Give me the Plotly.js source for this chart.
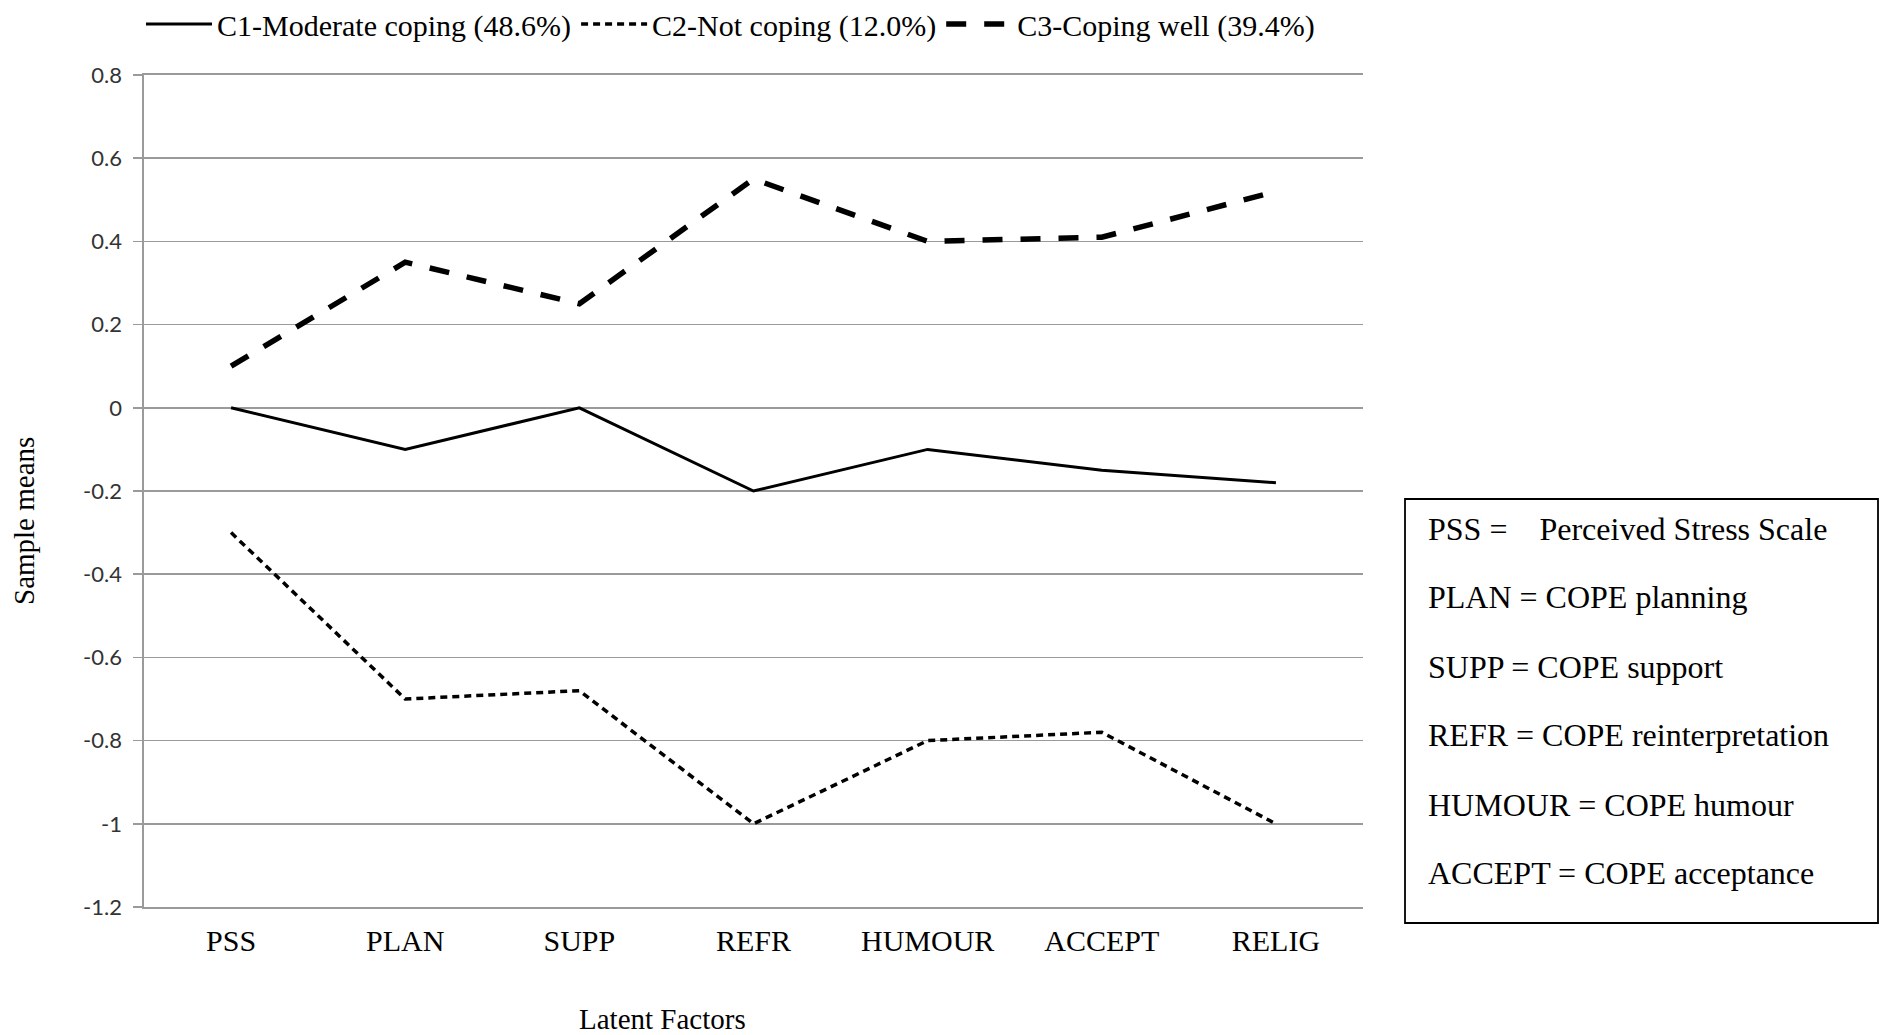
<!DOCTYPE html>
<html>
<head>
<meta charset="utf-8">
<script src="https://cdn.plot.ly/plotly-3.0.1.min.js"></script>
<style>html,body{margin:0;padding:0;background:#fff;}#chart{width:1880px;height:1035px;}</style>
</head>
<body>
<div id="chart"></div>
<script>
const categories = ["PSS", "PLAN", "SUPP", "REFR", "HUMOUR", "ACCEPT", "RELIG"];
const c1Name = "C1-Moderate coping (48.6%)";
const c2Name = "C2-Not coping (12.0%)";
const c3Name = "C3-Coping well (39.4%)";
const c1Values = [0.0, -0.10, 0.0, -0.20, -0.10, -0.15, -0.18];
const c2Values = [-0.30, -0.70, -0.68, -1.00, -0.80, -0.78, -1.00];
const c3Values = [0.10, 0.35, 0.25, 0.55, 0.40, 0.41, 0.52];
const yTickVals = [0.8, 0.6, 0.4, 0.2, 0, -0.2, -0.4, -0.6, -0.8, -1, -1.2];
const yTickText = ["0.8", "0.6", "0.4", "0.2", "0", "-0.2", "-0.4", "-0.6", "-0.8", "-1", "-1.2"];
const keyLines = [
  "PSS =\u00A0\u00A0\u00A0\u00A0Perceived Stress Scale",
  "PLAN = COPE planning",
  "SUPP = COPE support",
  "REFR = COPE reinterpretation",
  "HUMOUR = COPE humour",
  "ACCEPT = COPE acceptance"
];
const xTitle = "Latent Factors";
const yTitle = "Sample means";

const serif = "Liberation Serif, Times New Roman, serif";

const traces = [
  {x: categories, y: c1Values, name: c1Name, type: "scatter", mode: "lines",
   line: {color: "#000", width: 3}},
  {x: categories, y: c2Values, name: c2Name, type: "scatter", mode: "lines",
   line: {color: "#000", width: 3.5, dash: "7px,5px"}},
  {x: categories, y: c3Values, name: c3Name, type: "scatter", mode: "lines",
   line: {color: "#000", width: 5.5, dash: "20px,18px"}}
];

// plot area in pixels: left 144, right 1363, top 75, bottom 907
const L = 144, R = 1363, T = 75, B = 907, W = 1880, H = 1035;
const px = v => (v - L) / (R - L);
const py = v => (B - v) / (B - T);

const annotations = [
  {text: xTitle, xref: "paper", yref: "paper", x: px(662), y: py(1019),
   xanchor: "center", yanchor: "middle", showarrow: false,
   font: {family: serif, size: 29, color: "#000"}},
  {text: yTitle, xref: "paper", yref: "paper", x: px(24), y: py(521),
   xanchor: "center", yanchor: "middle", showarrow: false, textangle: -90,
   font: {family: serif, size: 29, color: "#000"}}
];
const keyY = [529, 597, 667, 735, 805, 873];
keyLines.forEach((t, i) => {
  annotations.push({text: t, xref: "paper", yref: "paper", x: px(1426), y: py(keyY[i]),
    xanchor: "left", yanchor: "middle", showarrow: false,
    font: {family: serif, size: 32, color: "#000"}});
});

const layout = {
  width: W, height: H,
  margin: {l: L, r: W - R, t: T, b: H - B, pad: 0, autoexpand: false},
  paper_bgcolor: "#fff", plot_bgcolor: "#fff",
  showlegend: true,
  legend: {orientation: "h", xref: "container", yref: "container",
    x: 141 / W, y: 1 - 24 / H, xanchor: "left", yanchor: "middle",
    font: {family: serif, size: 30, color: "#000"}, itemwidth: 66, tracegroupgap: 0,
    bgcolor: "rgba(0,0,0,0)"},
  xaxis: {type: "category", range: [-0.5, 6.5], showgrid: false, zeroline: false,
    showline: true, mirror: true, linecolor: "#9a9a9a", linewidth: 1.6,
    ticks: "", ticklabelstandoff: 6,
    tickfont: {family: serif, size: 30, color: "#000"}},
  yaxis: {range: [-1.2, 0.8], tickvals: yTickVals, ticktext: yTickText,
    showgrid: true, gridcolor: "#9a9a9a", gridwidth: 1.6, zeroline: false,
    showline: true, linecolor: "#9a9a9a", linewidth: 1.6,
    ticks: "outside", ticklen: 9, tickcolor: "#9a9a9a", tickwidth: 1.6,
    ticklabelstandoff: 7,
    tickfont: {family: "Lato, Carlito, sans-serif", size: 22, color: "#333"}},
  shapes: [
    {type: "rect", xref: "paper", yref: "paper", x0: px(1405), x1: px(1878), y0: py(499), y1: py(923),
     line: {color: "#000", width: 1.8}, fillcolor: "rgba(0,0,0,0)"}
  ],
  annotations: annotations
};

Plotly.newPlot("chart", traces, layout, {displayModeBar: false, staticPlot: true});
</script>
</body>
</html>
